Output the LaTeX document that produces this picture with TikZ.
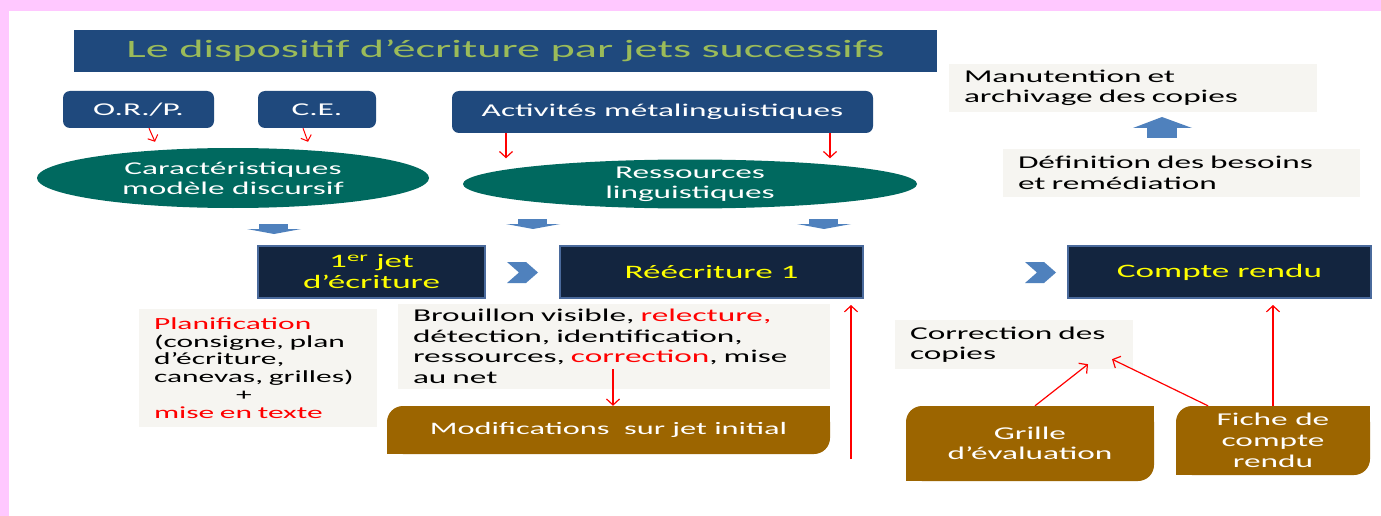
\documentclass[tikz,border=0pt]{standalone}
\usepackage{fontspec}
\setmainfont{Carlito}[FakeStretch=1.85]
\usetikzlibrary{arrows.meta,shapes.geometric}
\definecolor{pinkbg}{HTML}{FFC8FF}
\definecolor{navy}{HTML}{1F497D}
\definecolor{titlegreen}{HTML}{9BBB59}
\definecolor{teal}{HTML}{00695F}
\definecolor{darkbox}{HTML}{13253F}
\definecolor{darkborder}{HTML}{4A6A9C}
\definecolor{graybox}{HTML}{F6F5F1}
\definecolor{brownc}{HTML}{9C6500}
\definecolor{arrowblue}{HTML}{4F81BD}
\definecolor{yel}{HTML}{FFFF00}
\definecolor{redc}{HTML}{FF0000}
\tikzset{
  fs/.style n args={2}{font=\fontsize{#1}{#2}\selectfont},
  bluebox/.style={fill=navy, rounded corners=7pt, text=white, inner sep=0pt, fs={18}{20}},
  ell/.style={ellipse, fill=teal, text=white, inner sep=0pt, align=center, fs={18}{20}},
  darkb/.style={fill=darkbox, draw=darkborder, line width=2pt, text=yel, inner sep=0pt, align=center, fs={19}{21}},
  grayb/.style={fill=graybox, inner ysep=0pt, align=left, fs={18}{20.5}},
  brownb/.style={fill=brownc, rounded corners=16pt, text=white, inner sep=0pt, align=center, fs={18}{21}},
  redarr/.style={draw=redc, line width=1.2pt, -{Straight Barb[length=6pt,width=13pt]}},
  redsmall/.style={draw=redc, line width=1pt, -{Straight Barb[length=5pt,width=11pt]}},
  bluefill/.style={fill=arrowblue},
}
\newcommand{\sharpen}[1]{%
  \fill[brownc] (#1.north east) rectangle ([xshift=-18pt,yshift=-18pt]#1.north east);
  \fill[brownc] (#1.south west) rectangle ([xshift=18pt,yshift=18pt]#1.south west);}
\begin{document}
\begin{tikzpicture}[x=1pt,y=-1pt]
\useasboundingbox (0,0) rectangle (1381,516);
\fill[pinkbg] (0,0) rectangle (1381,516);
\fill[white] (9,11) rectangle (1381,516);

% title
\node[fill=navy, text=titlegreen, minimum width=863pt, minimum height=42pt, inner sep=0pt, fs={25}{28}] (title) at (505.5,51) {Le dispositif d’écriture par jets successifs};

% top boxes
\node[bluebox, minimum width=151pt, minimum height=37pt] (orp) at (138.5,109.5) {O.R./P.};
\node[bluebox, minimum width=118pt, minimum height=37pt] (ce) at (317,109.5) {C.E.};
\node[bluebox, minimum width=421pt, minimum height=42pt] (act) at (662.5,112) {Activités métalinguistiques};

% ellipses
\node[ell, minimum width=392pt, minimum height=60pt] (car) at (233,178) {Caractéristiques\\modèle discursif};
\node[ell, minimum width=454pt, minimum height=48pt] (res) at (690,184) {Ressources\\linguistiques};

% red small arrows
\draw[redsmall] ([xshift=10.5pt]orp.south) -- ([xshift=-78pt,yshift=6pt]car.north);
\draw[redsmall] ([xshift=-14pt]ce.south) -- ([xshift=75pt,yshift=6pt]car.north);
\draw[redarr] ([xshift=-156.5pt]act.south) -- ([xshift=-184pt,yshift=1pt]res.north);
\draw[redarr] ([xshift=167.5pt]act.south) -- ([xshift=140pt,yshift=1pt]res.north);

% blue down arrows
\foreach \cx/\ty in {274/224, 533/219, 824/219}{
  \fill[bluefill] (\cx-15,\ty) rectangle (\cx+14,\ty+5);
  \fill[bluefill] (\cx-27,\ty+5) -- (\cx+27,\ty+5) -- (\cx,\ty+10) -- cycle;
}
% blue up arrow
\fill[bluefill] (1147,128) rectangle (1177,138);
\fill[bluefill] (1133,128) -- (1192,128) -- (1162,117) -- cycle;

% chevrons
\foreach \cx in {507,1025}{
  \fill[bluefill] (\cx,262) -- (\cx+19,262) -- (\cx+31,272.5) -- (\cx+19,283) -- (\cx,283) -- (\cx+12,272.5) -- cycle;
}

% dark boxes
\node[darkb, minimum width=227pt, minimum height=52pt] (jet) at (371.5,272) {1\textsuperscript{er} jet\\d’écriture};
\node[darkb, minimum width=303pt, minimum height=52pt] (reec) at (711.5,272) {Réécriture 1};
\node[darkb, minimum width=303pt, minimum height=52pt] (cr) at (1219.5,272) {Compte rendu};

% gray boxes
\node[grayb, fs={17}{17.7}, inner xsep=15pt, text width=208pt, minimum height=118pt] (plan) at (258,368) {\textcolor{redc}{Planification}\\(consigne, plan\\d’écriture,\\canevas, grilles)\\\hspace*{82pt}+\\\textcolor{redc}{mise en texte}};
\node[grayb, inner xsep=15pt, text width=402pt, minimum height=85pt] (brou) at (614,346.5) {Brouillon visible, \textcolor{redc}{relecture,}\\détection, identification,\\ressources, \textcolor{redc}{correction}, mise\\au net};
\node[grayb, inner xsep=15pt, text width=208pt, minimum height=49pt] (corr) at (1014,344.5) {Correction des\\copies};
\node[grayb, inner xsep=15pt, text width=338pt, minimum height=48pt] (manu) at (1133,88) {Manutention et\\archivage des copies};
\node[grayb, inner xsep=15pt, text width=327pt, minimum height=48pt] (defi) at (1181.5,173) {Définition des besoins\\et remédiation};

% brown boxes
\node[brownb, fs={17.5}{20}, minimum width=443pt, minimum height=48pt] (mod) at (608.5,430) {Modifications\ \ sur jet initial};
\sharpen{mod}
\node[brownb, fs={18}{20}, minimum width=248pt, minimum height=75pt] (gri) at (1030,443.5) {Grille\\d’évaluation};
\sharpen{gri}
\node[brownb, minimum width=194pt, minimum height=69pt] (fic) at (1273,440.5) {Fiche de\\compte\\rendu};
\sharpen{fic}

% red connectors
\draw[redarr] ([xshift=-1pt,yshift=20pt]brou.south) -- ([xshift=4.5pt]mod.north);
\coordinate (lowstart) at (851,459);
\draw[redarr] (lowstart) -- ([xshift=139.5pt,yshift=-6pt]reec.south);
\draw[redarr] (fic.north) -- ([xshift=53.5pt,yshift=-6pt]cr.south);
\draw[redarr] ([xshift=5pt]gri.north) -- ([xshift=74pt,yshift=5pt]corr.south);
\draw[redarr] ([xshift=-65pt]fic.north) -- ([xshift=98pt,yshift=10pt]corr.south);
\end{tikzpicture}
\end{document}
